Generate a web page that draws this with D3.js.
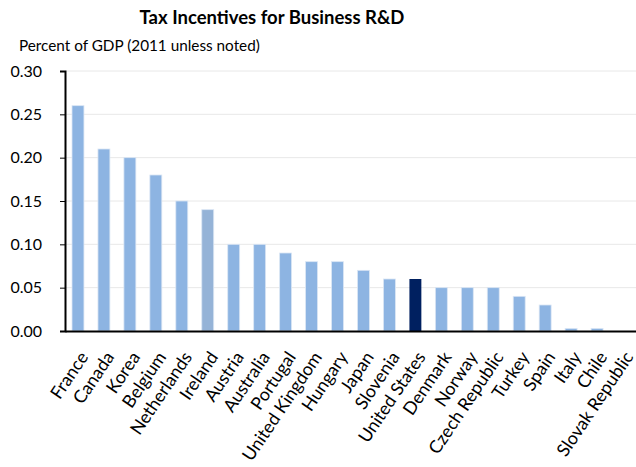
<!DOCTYPE html>
<html>
<head>
<meta charset="utf-8">
<script src="https://cdn.jsdelivr.net/npm/d3@7"></script>
<style>
  body { margin: 0; background: #fff; }
  text { font-family: Lato, "Open Sans", sans-serif; fill: #000; }
</style>
</head>
<body>
<div id="chart"></div>
<script>
const countries = ["France", "Canada", "Korea", "Belgium", "Netherlands", "Ireland",
  "Austria", "Australia", "Portugal", "United Kingdom", "Hungary", "Japan", "Slovenia",
  "United States", "Denmark", "Norway", "Czech Republic", "Turkey", "Spain", "Italy",
  "Chile", "Slovak Republic"];
const values = [0.26, 0.21, 0.20, 0.18, 0.15, 0.14, 0.10, 0.10, 0.09, 0.08, 0.08, 0.07,
  0.06, 0.06, 0.05, 0.05, 0.05, 0.04, 0.03, 0.003, 0.003, 0];
const yTicks = [0, 0.05, 0.10, 0.15, 0.20, 0.25, 0.30];

const width = 636, height = 467;
const margin = { top: 71, right: 0, bottom: 136, left: 65 };

const svg = d3.select("#chart").append("svg")
  .attr("width", width)
  .attr("height", height);

const x = d3.scaleBand()
  .domain(countries)
  .range([margin.left, width - margin.right])
  .paddingInner(0.54)
  .paddingOuter(0.27);

const y = d3.scaleLinear()
  .domain([0, 0.30])
  .range([height - margin.bottom, margin.top]);

// gridlines
svg.append("g")
  .selectAll("line")
  .data(yTicks.slice(1))
  .enter()
  .append("line")
  .attr("x1", margin.left)
  .attr("x2", width - margin.right)
  .attr("y1", (d) => y(d))
  .attr("y2", (d) => y(d))
  .attr("stroke", "#e8e8e8")
  .attr("stroke-width", 1);

// bars
const colorFor = (c) =>
  c === "United States" ? "#002060" : c === "Ireland" ? "#95b3d7" : "#8db4e2";

svg.append("g")
  .selectAll("rect")
  .data(countries)
  .enter()
  .append("rect")
  .attr("x", (d) => x(d))
  .attr("width", x.bandwidth())
  .attr("y", (d, i) => y(values[i]))
  .attr("height", (d, i) => y(0) - y(values[i]))
  .attr("fill", colorFor)
  .attr("stroke", (d) => (d === "United States" ? "none" : "#dbe6f4"))
  .attr("stroke-width", 0.8);

// y axis
const yAxis = svg.append("g")
  .attr("transform", `translate(${margin.left},0)`)
  .call(d3.axisLeft(y).tickValues(yTicks).tickFormat(d3.format(".2f")).tickSize(5).tickPadding(18));
yAxis.select(".domain").attr("stroke", "#000").attr("stroke-width", 2);
yAxis.selectAll(".tick line").attr("stroke", "#000").attr("stroke-width", 1);
yAxis.selectAll("text").style("font-size", "16px").attr("fill", "#000");

// x axis
const xAxis = svg.append("g")
  .attr("transform", `translate(0,${y(0)})`)
  .call(d3.axisBottom(x).tickSize(0).tickSizeOuter(0));
xAxis.select(".domain").attr("stroke", "#000").attr("stroke-width", 2);
xAxis.selectAll("text")
  .style("font-size", "17.8px")
  .attr("fill", "#000")
  .attr("text-anchor", "end")
  .attr("y", 0)
  .attr("dy", 0)
  .attr("transform", "translate(11,26) rotate(-56)");

// titles
svg.append("text")
  .attr("x", 272)
  .attr("y", 24)
  .attr("text-anchor", "middle")
  .style("font-size", "18.5px")
  .style("font-weight", "bold")
  .text("Tax Incentives for Business R&D");

svg.append("text")
  .attr("x", 19)
  .attr("y", 51)
  .style("font-size", "15.3px")
  .text("Percent of GDP (2011 unless noted)");
</script>
</body>
</html>
